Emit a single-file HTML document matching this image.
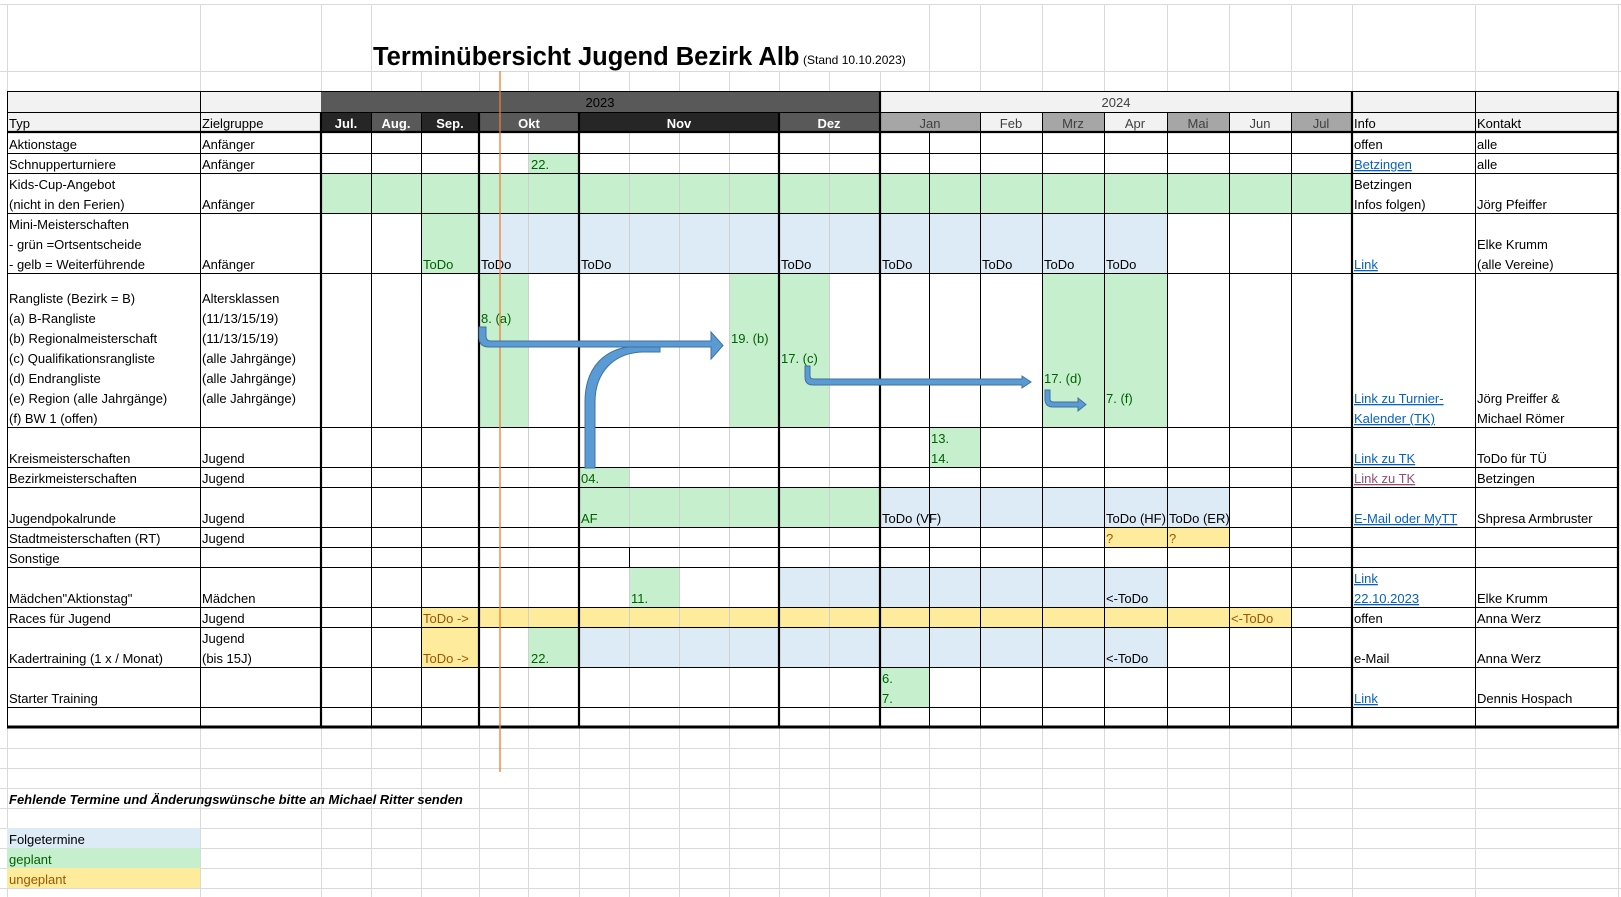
<!DOCTYPE html>
<html><head><meta charset="utf-8"><style>
html,body{margin:0;padding:0;background:#fff;width:1621px;height:897px;overflow:hidden}
svg{display:block}
text{font-family:"Liberation Sans",Arial,sans-serif;font-size:13px;fill:#000}
.g{fill:#006100}.y{fill:#9c5700}.l{fill:#0563c1;text-decoration:underline}.v{fill:#954f72;text-decoration:underline}
.w{fill:#fff;font-weight:bold}.d{fill:#404040}
</style></head><body>
<svg width="1621" height="897" viewBox="0 0 1621 897" xmlns="http://www.w3.org/2000/svg">
<g stroke="#d9d9d9" stroke-width="1">
<line x1="0" y1="4.5" x2="1621" y2="4.5"/><line x1="0" y1="71.5" x2="1621" y2="71.5"/>
<line x1="0" y1="748.5" x2="1621" y2="748.5"/><line x1="0" y1="768.5" x2="1621" y2="768.5"/>
<line x1="0" y1="788.5" x2="1621" y2="788.5"/><line x1="0" y1="808.5" x2="1621" y2="808.5"/>
<line x1="0" y1="828.5" x2="1621" y2="828.5"/><line x1="0" y1="848.5" x2="1621" y2="848.5"/>
<line x1="0" y1="868.5" x2="1621" y2="868.5"/><line x1="0" y1="888.5" x2="1621" y2="888.5"/>
<path d="M7.5 4V91M200.5 4V91M321.5 4V91M371.5 4V91M929.5 4V91M980.5 4V91M1042.5 4V91M1104.5 4V91M1167.5 4V91M1229.5 4V91M1291.5 4V91M1352.5 4V91M1475.5 4V91M1618.5 4V91"/>
<path d="M421.5 71V91M479.5 71V91M528.5 71V91M579.5 71V91M629.5 71V91M679.5 71V91M729.5 71V91M779.5 71V91M829.5 71V91M880.5 71V91"/>
<path d="M7.5 727V897M200.5 727V897M321.5 727V897M371.5 727V897M421.5 727V897M479.5 727V897M528.5 727V897M579.5 727V897M629.5 727V897M679.5 727V897M729.5 727V897M779.5 727V897M829.5 727V897M880.5 727V897M929.5 727V897M980.5 727V897M1042.5 727V897M1104.5 727V897M1167.5 727V897M1229.5 727V897M1291.5 727V897M1352.5 727V897M1475.5 727V897M1618.5 727V897"/>
</g>
<rect x="372" y="20" width="556" height="50" fill="#fff"/>
<text x="373" y="65" style="font-size:25.5px;font-weight:bold">Terminübersicht Jugend Bezirk Alb</text>
<text x="803" y="64" style="font-size:12px">(Stand 10.10.2023)</text>

<rect x="7" y="91" width="314" height="41" fill="#f2f2f2"/>
<rect x="321" y="91" width="559" height="21" fill="#595959"/>
<rect x="880" y="91" width="738" height="21" fill="#f2f2f2"/>
<rect x="1352" y="91" width="266" height="41" fill="#f2f2f2"/>
<rect x="321" y="112" width="50" height="20" fill="#262626"/>
<rect x="371" y="112" width="50" height="20" fill="#595959"/>
<rect x="421" y="112" width="58" height="20" fill="#262626"/>
<rect x="479" y="112" width="100" height="20" fill="#595959"/>
<rect x="579" y="112" width="200" height="20" fill="#262626"/>
<rect x="779" y="112" width="101" height="20" fill="#595959"/>
<rect x="880" y="112" width="100" height="20" fill="#a6a6a6"/>
<rect x="980" y="112" width="62" height="20" fill="#f2f2f2"/>
<rect x="1042" y="112" width="62" height="20" fill="#a6a6a6"/>
<rect x="1104" y="112" width="63" height="20" fill="#f2f2f2"/>
<rect x="1167" y="112" width="62" height="20" fill="#a6a6a6"/>
<rect x="1229" y="112" width="62" height="20" fill="#f2f2f2"/>
<rect x="1291" y="112" width="61" height="20" fill="#a6a6a6"/>

<g fill="#c6efce">
<rect x="528" y="153" width="51" height="20"/>
<rect x="321" y="173" width="1031" height="40"/>
<rect x="421" y="213" width="58" height="60"/>
<rect x="479" y="273" width="49" height="154"/>
<rect x="729" y="273" width="100" height="154"/>
<rect x="1042" y="273" width="125" height="154"/>
<rect x="929" y="427" width="51" height="40"/>
<rect x="579" y="467" width="50" height="20"/>
<rect x="579" y="487" width="301" height="40"/>
<rect x="629" y="567" width="50" height="40"/>
<rect x="528" y="627" width="51" height="40"/>
<rect x="880" y="667" width="49" height="40"/>
<rect x="7" y="848" width="193" height="20"/>
</g>
<g fill="#ddebf7">
<rect x="479" y="213" width="688" height="60"/>
<rect x="880" y="487" width="349" height="40"/>
<rect x="779" y="567" width="388" height="40"/>
<rect x="579" y="627" width="588" height="40"/>
<rect x="7" y="828" width="193" height="20"/>
</g>
<g fill="#ffeb9c">
<rect x="1104" y="527" width="125" height="20"/>
<rect x="421" y="607" width="870" height="20"/>
<rect x="421" y="627" width="58" height="40"/>
<rect x="7" y="868" width="193" height="20"/>
</g>

<g stroke="#d0d0d0" stroke-width="1">
<path d="M528.5 132V727M629.5 132V727M679.5 132V727M729.5 132V727M829.5 132V727"/>
</g>
<g stroke="#000" stroke-width="1">
<path d="M7 91.5H1618M7 112.5H1618M7 153.5H1618M7 173.5H1618M7 213.5H1618M7 273.5H1618M7 427.5H1618M7 467.5H1618M7 487.5H1618M7 527.5H1618M7 547.5H1618M7 567.5H1618M7 607.5H1618M7 627.5H1618M7 667.5H1618M7 707.5H1618"/>
<path d="M7.5 91V727M200.5 91V727M371.5 112V727M421.5 112V727M929.5 132V727M980.5 112V727M1042.5 112V727M1104.5 112V727M1167.5 112V727M1229.5 112V727M1291.5 112V727M1475.5 91V727M629.5 547V567"/>
</g>
<g stroke="#000" stroke-width="2.2">
<path d="M7 132H1619M321 112V727M479 112V727M579 112V727M779 112V727M880 91V727M1352 91V727M1618 91V727"/>
</g>
<path d="M7 727H1619" stroke="#000" stroke-width="3"/>

<text x="600" y="107" fill="#fff" text-anchor="middle">2023</text>
<text x="1116" y="107" class="d" text-anchor="middle">2024</text>
<text x="9" y="128" fill="#333">Typ</text>
<text x="202" y="128" fill="#333">Zielgruppe</text>
<text x="346" y="128" class="w" text-anchor="middle">Jul.</text>
<text x="396" y="128" class="w" text-anchor="middle">Aug.</text>
<text x="450" y="128" class="w" text-anchor="middle">Sep.</text>
<text x="529" y="128" class="w" text-anchor="middle">Okt</text>
<text x="679" y="128" class="w" text-anchor="middle">Nov</text>
<text x="829" y="128" class="w" text-anchor="middle">Dez</text>
<text x="930" y="128" class="d" text-anchor="middle">Jan</text>
<text x="1011" y="128" class="d" text-anchor="middle">Feb</text>
<text x="1073" y="128" class="d" text-anchor="middle">Mrz</text>
<text x="1135" y="128" class="d" text-anchor="middle">Apr</text>
<text x="1198" y="128" class="d" text-anchor="middle">Mai</text>
<text x="1260" y="128" class="d" text-anchor="middle">Jun</text>
<text x="1321" y="128" class="d" text-anchor="middle">Jul</text>
<text x="1354" y="128" fill="#333">Info</text>
<text x="1477" y="128" fill="#333">Kontakt</text>

<text x="9" y="149">Aktionstage</text><text x="202" y="149">Anfänger</text>
<text x="9" y="169">Schnupperturniere</text><text x="202" y="169">Anfänger</text>
<text x="9" y="189">Kids-Cup-Angebot</text><text x="9" y="209">(nicht in den Ferien)</text><text x="202" y="209">Anfänger</text>
<text x="9" y="229">Mini-Meisterschaften</text><text x="9" y="249">- grün =Ortsentscheide</text><text x="9" y="269">- gelb = Weiterführende</text><text x="202" y="269">Anfänger</text>
<text x="9" y="303">Rangliste (Bezirk = B)</text>
<text x="9" y="323">(a) B-Rangliste</text>
<text x="9" y="343">(b) Regionalmeisterschaft</text>
<text x="9" y="363">(c) Qualifikationsrangliste</text>
<text x="9" y="383">(d) Endrangliste</text>
<text x="9" y="403">(e) Region (alle Jahrgänge)</text>
<text x="9" y="423">(f) BW 1 (offen)</text>
<text x="202" y="303">Altersklassen</text>
<text x="202" y="323">(11/13/15/19)</text>
<text x="202" y="343">(11/13/15/19)</text>
<text x="202" y="363">(alle Jahrgänge)</text>
<text x="202" y="383">(alle Jahrgänge)</text>
<text x="202" y="403">(alle Jahrgänge)</text>
<text x="9" y="463">Kreismeisterschaften</text><text x="202" y="463">Jugend</text>
<text x="9" y="483">Bezirkmeisterschaften</text><text x="202" y="483">Jugend</text>
<text x="9" y="523">Jugendpokalrunde</text><text x="202" y="523">Jugend</text>
<text x="9" y="543">Stadtmeisterschaften (RT)</text><text x="202" y="543">Jugend</text>
<text x="9" y="563">Sonstige</text>
<text x="9" y="603">Mädchen"Aktionstag"</text><text x="202" y="603">Mädchen</text>
<text x="9" y="623">Races für Jugend</text><text x="202" y="623">Jugend</text>
<text x="9" y="663">Kadertraining (1 x / Monat)</text><text x="202" y="643">Jugend</text><text x="202" y="663">(bis 15J)</text>
<text x="9" y="703">Starter Training</text>

<text x="531" y="169" class="g">22.</text>
<text x="423" y="269" class="g">ToDo</text>
<text x="481" y="269">ToDo</text><text x="581" y="269">ToDo</text><text x="781" y="269">ToDo</text>
<text x="882" y="269">ToDo</text><text x="982" y="269">ToDo</text><text x="1044" y="269">ToDo</text><text x="1106" y="269">ToDo</text>
<text x="481" y="323" class="g">8.  (a)</text>
<text x="731" y="343" class="g">19. (b)</text>
<text x="781" y="363" class="g">17. (c)</text>
<text x="1044" y="383" class="g">17. (d)</text>
<text x="1106" y="403" class="g">7. (f)</text>
<text x="931" y="443" class="g">13.</text><text x="931" y="463" class="g">14.</text>
<text x="581" y="483" class="g">04.</text>
<text x="581" y="523" class="g">AF</text>
<text x="882" y="523">ToDo (VF)</text><text x="1106" y="523">ToDo (HF)</text><text x="1169" y="523">ToDo (ER)</text>
<text x="1106" y="543" class="y">?</text><text x="1169" y="543" class="y">?</text>
<text x="631" y="603" class="g">11.</text>
<text x="1106" y="603">&lt;-ToDo</text>
<text x="423" y="623" class="y">ToDo -&gt;</text>
<text x="1231" y="623" class="y">&lt;-ToDo</text>
<text x="423" y="663" class="y">ToDo -&gt;</text>
<text x="531" y="663" class="g">22.</text>
<text x="1106" y="663">&lt;-ToDo</text>
<text x="882" y="683" class="g">6.</text><text x="882" y="703" class="g">7.</text>

<text x="1354" y="149">offen</text><text x="1477" y="149">alle</text>
<text x="1354" y="169" class="l">Betzingen</text><text x="1477" y="169">alle</text>
<text x="1354" y="189">Betzingen</text><text x="1354" y="209">Infos folgen)</text><text x="1477" y="209">Jörg Pfeiffer</text>
<text x="1354" y="269" class="l">Link</text><text x="1477" y="249">Elke Krumm</text><text x="1477" y="269">(alle Vereine)</text>
<text x="1354" y="403" class="l">Link zu Turnier-</text><text x="1354" y="423" class="l">Kalender (TK)</text>
<text x="1477" y="403">Jörg Preiffer &amp;</text><text x="1477" y="423">Michael Römer</text>
<text x="1354" y="463" class="l">Link zu TK</text><text x="1477" y="463">ToDo für TÜ</text>
<text x="1354" y="483" class="v">Link zu TK</text><text x="1477" y="483">Betzingen</text>
<text x="1354" y="523" class="l">E-Mail oder MyTT</text><text x="1477" y="523">Shpresa Armbruster</text>
<text x="1354" y="583" class="l">Link</text><text x="1354" y="603" class="l">22.10.2023</text><text x="1477" y="603">Elke Krumm</text>
<text x="1354" y="623">offen</text><text x="1477" y="623">Anna Werz</text>
<text x="1354" y="663">e-Mail</text><text x="1477" y="663">Anna Werz</text>
<text x="1354" y="703" class="l">Link</text><text x="1477" y="703">Dennis Hospach</text>

<text x="9" y="804" style="font-weight:bold;font-style:italic">Fehlende Termine und Änderungswünsche bitte an Michael Ritter senden</text>
<text x="9" y="844">Folgetermine</text>
<text x="9" y="864" class="g">geplant</text>
<text x="9" y="884" class="y">ungeplant</text>

<line x1="500" y1="71" x2="500" y2="772" stroke="#ed7d31" stroke-width="1.3"/>

<g fill="#5b9bd5" stroke="#41719c" stroke-width="1">
<path d="M585,468 L585,402 C585,368 604,346 640,346 L660,346 L660,352 L642,352 C614,353 595,372 595,402 L595,468 Z"/>
<path d="M479,327 L486,327 L486,336 Q486,341 491,341 L711,341 L711,332 L723,345.5 L711,359 L711,347 L489,347 Q479,347 479,337 Z"/>
<path d="M805,366 L810,366 L810,376 Q810,379 814,379 L1022,379 L1022,376 L1031,382 L1022,388 L1022,385 L813,385 Q805,385 805,377 Z"/>
<path d="M1045,390 L1050,390 L1050,399 Q1050,402 1054,402 L1078,402 L1078,398 L1086,404.5 L1078,411 L1078,407 L1053,407 Q1045,407 1045,399 Z"/>
</g>
</svg>
</body></html>
